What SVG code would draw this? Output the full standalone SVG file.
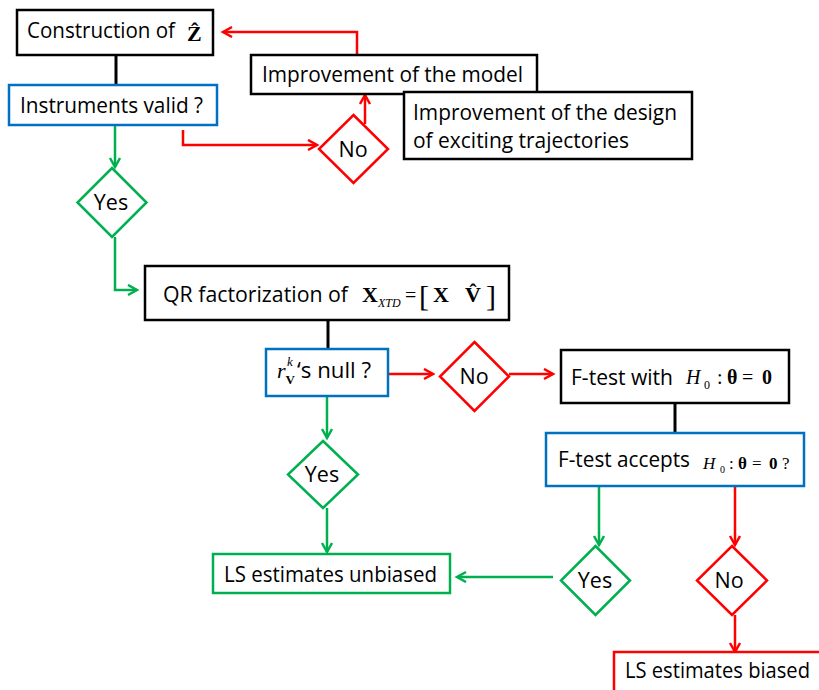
<svg xmlns="http://www.w3.org/2000/svg" width="819" height="690" viewBox="0 0 819 690">
<style>
.t{font-family:"Open Sans","Noto Sans","Liberation Sans",sans-serif;font-size:21.5px;fill:#000}
.m{font-family:"Liberation Serif","DejaVu Serif",serif;fill:#000}
.b{font-weight:bold}
.i{font-style:italic}
.bk{fill:#fff;stroke:#000;stroke-width:2.5}
.bl{fill:#fff;stroke:#0070C0;stroke-width:2.5}
.gr{fill:#fff;stroke:#00B050;stroke-width:2.5}
.rd{fill:#fff;stroke:#FF0000;stroke-width:2.5}
.cg{fill:none;stroke:#00B050;stroke-width:2.5}
.cr{fill:none;stroke:#FF0000;stroke-width:2.5}
.ck{fill:none;stroke:#000;stroke-width:3}
</style>
<defs>
<marker id="ag" markerUnits="userSpaceOnUse" markerWidth="14" markerHeight="14" refX="10" refY="6" orient="auto"><path d="M1,1 L10,6 L1,11" fill="none" stroke="#00B050" stroke-width="2.5"/></marker>
<marker id="ar" markerUnits="userSpaceOnUse" markerWidth="14" markerHeight="14" refX="10" refY="6" orient="auto"><path d="M1,1 L10,6 L1,11" fill="none" stroke="#FF0000" stroke-width="2.5"/></marker>
</defs>

<g id="connectors">
<path class="ck" d="M116,55 V85"/>
<path class="cg" d="M115,125 V167" marker-end="url(#ag)"/>
<path class="cg" d="M115,237 V290 H137" marker-end="url(#ag)"/>
<path class="cr" d="M183,130 V145 H317" marker-end="url(#ar)"/>
<path class="cr" d="M365,124 V95" marker-end="url(#ar)"/>
<path class="cr" d="M357,55 V32 H223" marker-end="url(#ar)"/>
<path class="ck" d="M328,320 V349"/>
<path class="cr" d="M388,374 H433" marker-end="url(#ar)"/>
<path class="cr" d="M509,374 H553" marker-end="url(#ar)"/>
<path class="ck" d="M675,403 V433"/>
<path class="cg" d="M599,486 V545" marker-end="url(#ag)"/>
<path class="cr" d="M735,486 V545" marker-end="url(#ar)"/>
<path class="cr" d="M735,615 V652" marker-end="url(#ar)"/>
<path class="cg" d="M553,577 H457" marker-end="url(#ag)"/>
<path class="cg" d="M327,396 V438" marker-end="url(#ag)"/>
<path class="cg" d="M327,508 V552" marker-end="url(#ag)"/>
</g>

<g id="construction">
<rect class="bk" x="17" y="10" width="196" height="45"/>
<text class="t" x="27" y="38" textLength="148" lengthAdjust="spacingAndGlyphs">Construction of</text>
<text class="m b" x="187" y="41" font-size="22">Ẑ</text>
</g>

<g id="instruments">
<rect class="bl" x="9" y="85" width="208" height="40"/>
<text class="t" x="20" y="113" textLength="183" lengthAdjust="spacingAndGlyphs">Instruments valid ?</text>
</g>

<g id="yes1">
<path class="gr" d="M112,168 L146.5,202.5 L112,237 L77.5,202.5 Z"/>
<text class="t" x="111" y="210" text-anchor="middle">Yes</text>
</g>

<g id="no1">
<path class="rd" d="M353.5,115 L388,149 L353.5,183 L319,149 Z"/>
<text class="t" x="353" y="157" text-anchor="middle">No</text>
</g>

<g id="improve-model">
<rect class="bk" x="251" y="55" width="286" height="39"/>
<text class="t" x="262" y="82" textLength="261" lengthAdjust="spacingAndGlyphs">Improvement of the model</text>
</g>

<g id="improve-design">
<rect class="bk" x="404" y="92" width="288" height="67"/>
<text class="t" x="413" y="120" textLength="264" lengthAdjust="spacingAndGlyphs">Improvement of the design</text>
<text class="t" x="413" y="148" textLength="216" lengthAdjust="spacingAndGlyphs">of exciting trajectories</text>
</g>

<g id="qr">
<rect class="bk" x="145" y="266" width="364" height="54"/>
<text class="t" x="163" y="302" textLength="185" lengthAdjust="spacingAndGlyphs">QR  factorization of</text>
<text class="m b" x="362" y="302" font-size="22">X<tspan class="i" font-weight="normal" font-size="12" dy="5">XTD</tspan></text>
<text class="m" x="405" y="302" font-size="20">=</text>
<text class="m" x="419" y="306" font-size="30" fill="#444">[</text>
<text class="m b" x="433" y="302" font-size="22">X</text>
<text class="m b" x="465" y="302" font-size="22">V̂</text>
<text class="m" x="486" y="306" font-size="30" fill="#444">]</text>
</g>

<g id="rnull">
<rect class="bl" x="266" y="349" width="122" height="47"/>
<text class="m i" x="277" y="378" font-size="22">r<tspan class="b" font-style="normal" font-size="13" dy="6">V</tspan><tspan font-size="13" dx="-8" dy="-18">k</tspan></text>
<text class="t" x="297" y="378" textLength="74" lengthAdjust="spacingAndGlyphs">‘s null ?</text>
</g>

<g id="no2">
<path class="rd" d="M474.5,342 L509,376.5 L474.5,411 L440,376.5 Z"/>
<text class="t" x="474" y="384" text-anchor="middle">No</text>
</g>

<g id="ftest">
<rect class="bk" x="561" y="350" width="228" height="53"/>
<text class="t" x="571" y="385" textLength="102" lengthAdjust="spacingAndGlyphs">F-test with</text>
<text class="m i" x="686" y="384" font-size="20">H</text>
<text class="m" x="704" y="389" font-size="12">0</text>
<text class="m" x="717" y="384" font-size="20">:</text>
<text class="m b" x="727" y="384" font-size="20">θ</text>
<text class="m" x="742" y="384" font-size="20">=</text>
<text class="m b" x="762" y="384" font-size="20">0</text>
</g>

<g id="faccept">
<rect class="bl" x="546" y="433" width="258" height="53"/>
<text class="t" x="558" y="467" textLength="132" lengthAdjust="spacingAndGlyphs">F-test accepts</text>
<text class="m i" x="703" y="469" font-size="17">H</text>
<text class="m" x="720" y="473" font-size="10">0</text>
<text class="m" x="729" y="469" font-size="17">:</text>
<text class="m b" x="738" y="469" font-size="17">θ</text>
<text class="m" x="752" y="469" font-size="17">=</text>
<text class="m b" x="769" y="469" font-size="17">0</text>
<text class="m" x="782" y="469" font-size="17">?</text>
</g>

<g id="yes2">
<path class="gr" d="M323,441 L358,474.5 L323,508 L288,474.5 Z"/>
<text class="t" x="322" y="482" text-anchor="middle">Yes</text>
</g>

<g id="unbiased">
<rect class="gr" x="213" y="554" width="237" height="39"/>
<text class="t" x="224" y="582" textLength="213" lengthAdjust="spacingAndGlyphs">LS estimates unbiased</text>
</g>

<g id="yes3">
<path class="gr" d="M595.5,546 L630,580.5 L595.5,615 L561,580.5 Z"/>
<text class="t" x="595" y="588" text-anchor="middle">Yes</text>
</g>

<g id="no3">
<path class="rd" d="M732,546 L767,580.5 L732,615 L697,580.5 Z"/>
<text class="t" x="729" y="588" text-anchor="middle">No</text>
</g>

<g id="biased">
<rect class="rd" x="614" y="652" width="210" height="40"/>
<text class="t" x="625" y="678" textLength="185" lengthAdjust="spacingAndGlyphs">LS estimates biased</text>
</g>
</svg>
